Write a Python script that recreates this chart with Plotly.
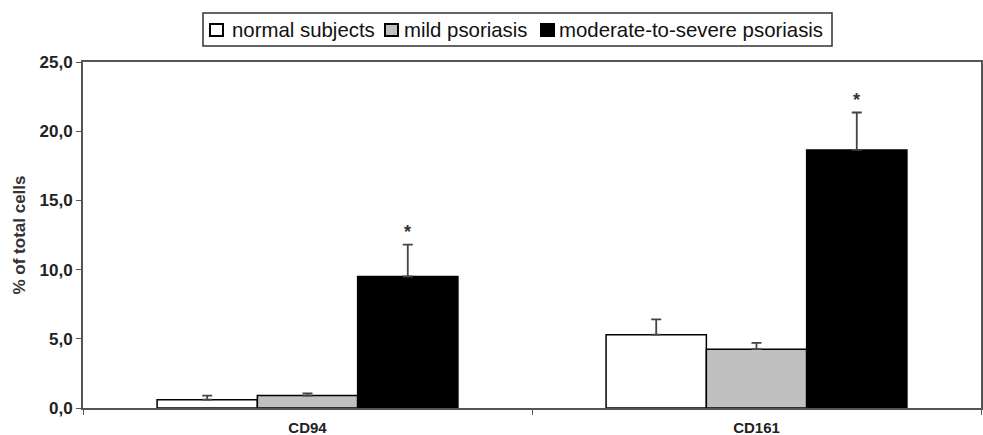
import plotly.graph_objects as go

categories = ["CD94", "CD161"]
series_names = ["normal subjects", "mild psoriasis", "moderate-to-severe psoriasis"]
normal_vals = [0.6, 5.3]
normal_err = [0.3, 1.1]
mild_vals = [0.9, 4.25]
mild_err = [0.15, 0.45]
severe_vals = [9.5, 18.65]
severe_err = [2.3, 2.7]
star_marks = ["*", "*"]
y_ticks = [0, 5, 10, 15, 20, 25]

fills = ["#ffffff", "#c0c0c0", "#000000"]
vals = [normal_vals, mild_vals, severe_vals]
errs = [normal_err, mild_err, severe_err]

W, H = 983, 435
ML, MR, MT, MB = 83, 2, 62, 27
PW, PH = W - ML - MR, H - MT - MB


def px(xp):
    return (xp - ML) / PW


def py(yp):
    return (H - MB - yp) / PH


fig = go.Figure()
for name, v, e, c in zip(series_names, vals, errs, fills):
    fig.add_trace(go.Bar(
        x=categories, y=v, name=name, showlegend=False,
        marker=dict(color=c, line=dict(color="#000000", width=1.5)),
        error_y=dict(type="data", array=e, arrayminus=[0] * len(e), symmetric=False,
                     color="#444444", thickness=1.8, width=5),
    ))

bar_gap = 0.33
offset = (1 - bar_gap) / 3
for i, (v, e, s) in enumerate(zip(severe_vals, severe_err, star_marks)):
    fig.add_annotation(x=i + offset, y=v + e, xref="x", yref="y", text=s,
                       showarrow=False, yanchor="bottom", yshift=1,
                       font=dict(family="Liberation Sans", size=18, weight="bold", color="#333333"))

# custom legend (box, swatches, labels)
shapes = [dict(type="rect", xref="paper", yref="paper",
               x0=px(203), x1=px(832), y0=py(46), y1=py(13),
               line=dict(color="#333333", width=1.5), fillcolor="#ffffff", layer="above")]
sw_left = [210, 385, 541]
txt_left = [230, 402, 557]
for name, c, sx, tx in zip(series_names, fills, sw_left, txt_left):
    shapes.append(dict(type="rect", xref="paper", yref="paper",
                       x0=px(sx), x1=px(sx + 13), y0=py(36), y1=py(24),
                       line=dict(color="#000000", width=2), fillcolor=c, layer="above"))
    fig.add_annotation(x=px(tx), y=py(30), xref="paper", yref="paper", text=name,
                       showarrow=False, xanchor="left", yanchor="middle",
                       font=dict(family="Liberation Sans", size=20.4, color="#111111"))

fig.update_layout(
    width=W, height=H,
    margin=dict(l=ML, r=MR, t=MT, b=MB, autoexpand=False),
    paper_bgcolor="#ffffff", plot_bgcolor="#ffffff",
    barmode="group", bargap=bar_gap, bargroupgap=0,
    separators=", ",
    font=dict(family="Liberation Sans", color="#222222"),
    showlegend=False,
    shapes=shapes,
    xaxis=dict(showline=True, linecolor="#555555", linewidth=2, mirror=True,
               ticks="outside", tickson="boundaries", ticklen=5, tickcolor="#555555",
               ticklabelstandoff=5, automargin=False,
               tickfont=dict(family="Liberation Sans", size=15, weight="bold", color="#222222"),
               showgrid=False),
    yaxis=dict(range=[0, 25], tickvals=y_ticks, tickformat=".1f",
               showline=True, linecolor="#555555", linewidth=2, mirror=True,
               ticks="outside", ticklen=5, tickcolor="#555555", automargin=False,
               tickfont=dict(family="Liberation Sans", size=17, weight="bold", color="#222222"),
               showgrid=False, zeroline=False,
               title=dict(text="% of total cells", standoff=10,
                          font=dict(family="Liberation Sans", size=17, weight="bold", color="#333333"))),
)

fig.write_html("out.html")
